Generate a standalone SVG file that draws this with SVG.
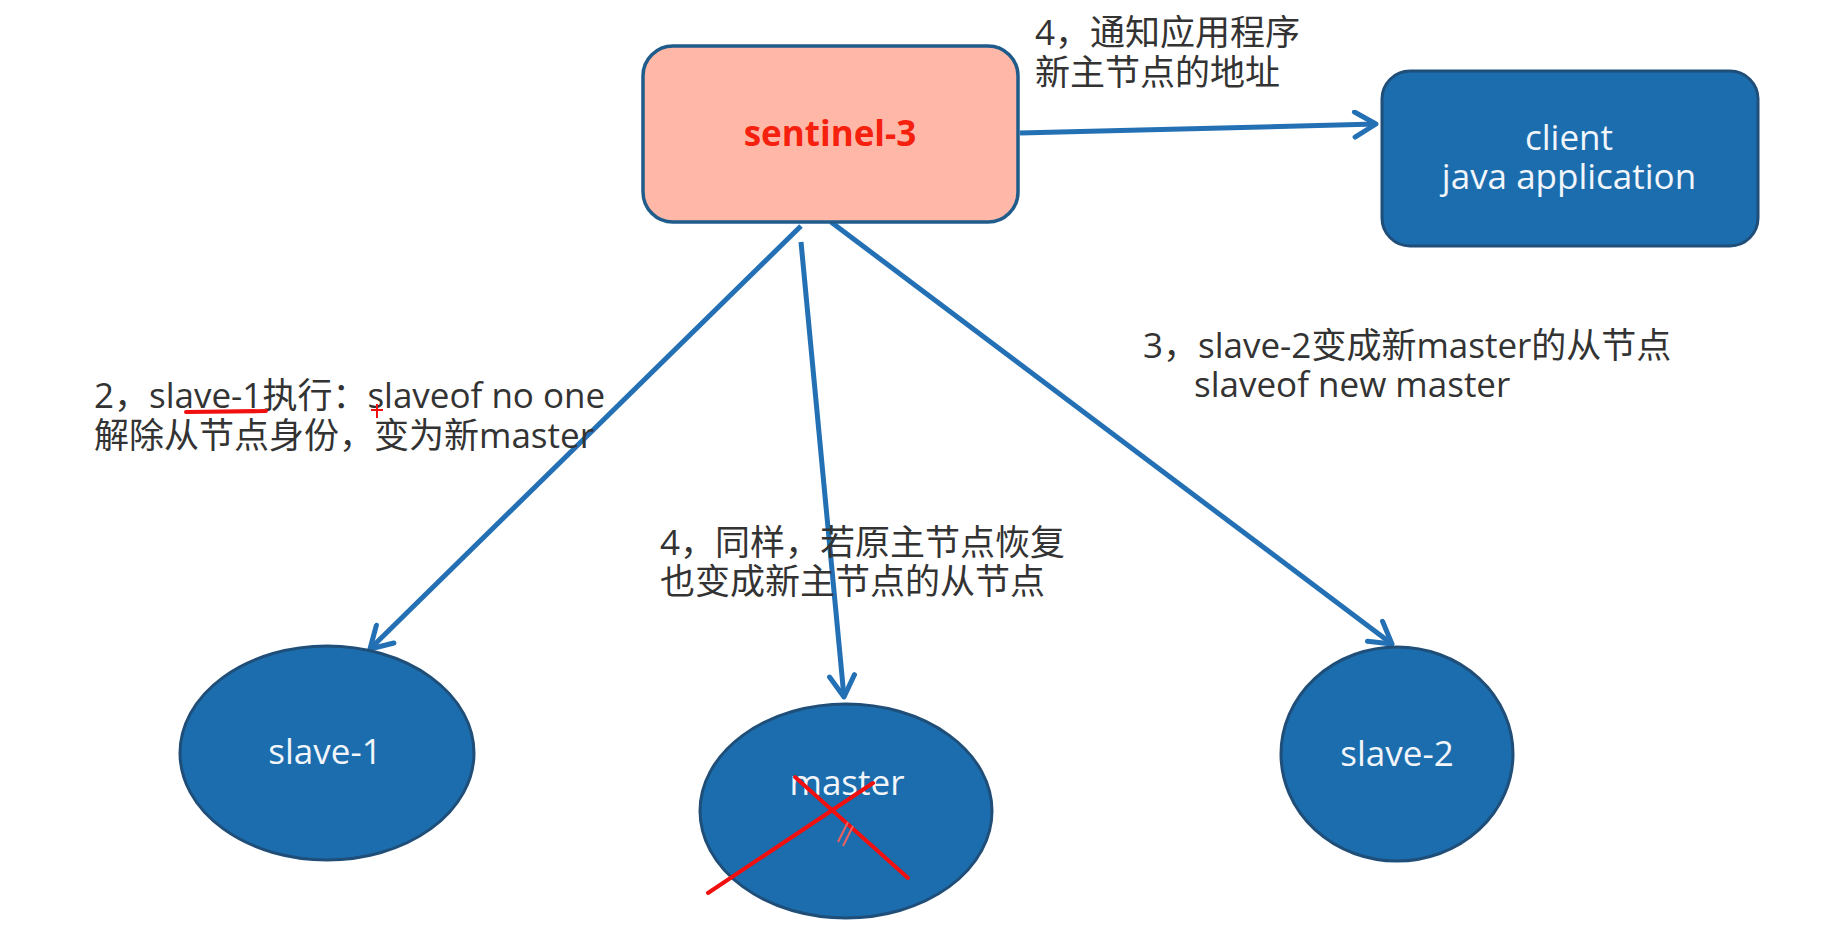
<svg xmlns="http://www.w3.org/2000/svg" width="1848" height="932" viewBox="0 0 1848 932">
<defs>
<style>
.note{font-family:"Open Sans","Noto Sans CJK SC",sans-serif;font-size:35px;fill:#333333;}
.nodeText{font-family:"Open Sans","Noto Sans CJK SC",sans-serif;font-size:35px;fill:#F2F6FA;text-anchor:middle;}
.blue{fill:#1B6DAE;stroke:#1F4E79;stroke-width:3;}
.conn{stroke:#2470B4;stroke-width:5;fill:none;marker-end:url(#arrow);}
.red{stroke:#F01010;stroke-width:4;fill:none;stroke-linecap:round;}
</style>
<marker id="arrow" viewBox="0 0 12 12" refX="10.5" refY="6" markerWidth="6" markerHeight="6" orient="auto" markerUnits="strokeWidth">
<path d="M2,1 L10.5,6 L2,11" fill="none" stroke="#2470B4" stroke-width="2" stroke-linecap="round" stroke-linejoin="round"/>
</marker>
</defs>
<rect width="1848" height="932" fill="#ffffff"/>

<g id="connectors">
<line class="conn" x1="1020" y1="133" x2="1376" y2="124"/>
<line class="conn" x1="801" y1="226" x2="370" y2="649"/>
<line class="conn" x1="801" y1="242" x2="844" y2="697"/>
<line class="conn" x1="831" y1="222" x2="1392" y2="644"/>
</g>

<g id="sentinel-3">
<rect x="643" y="46" width="375" height="176" rx="30" ry="30" fill="#FFB8A8" stroke="#1F5C8C" stroke-width="3.5"/>
<text x="830" y="146" font-family="'Open Sans','Noto Sans',sans-serif" font-size="35" font-weight="bold" fill="#F5200D" text-anchor="middle">sentinel-3</text>
</g>

<g id="client">
<rect class="blue" x="1382" y="71" width="376" height="175" rx="28" ry="28"/>
<text class="nodeText"><tspan x="1569" y="150">client</tspan><tspan x="1569" y="189">java application</tspan></text>
</g>

<g id="slave-1">
<ellipse class="blue" cx="327" cy="753" rx="147" ry="107"/>
<text class="nodeText" x="325" y="764">slave-1</text>
</g>

<g id="master">
<ellipse class="blue" cx="846" cy="811" rx="146" ry="107"/>
<text class="nodeText" x="847" y="795">master</text>
<path class="red" d="M795,777 L908,878"/>
<path class="red" d="M708,893 L873,783"/>
<path d="M838,842 L848,822 M843,846 L853,826" stroke="#F06060" stroke-width="2" fill="none"/>
</g>

<g id="slave-2">
<ellipse class="blue" cx="1397" cy="754" rx="116" ry="107"/>
<text class="nodeText" x="1397" y="766">slave-2</text>
</g>

<g id="note-4-client">
<text class="note"><tspan x="1035" y="45">4，通知应用程序</tspan><tspan x="1035" y="85">新主节点的地址</tspan></text>
</g>

<g id="note-2">
<text class="note"><tspan x="94" y="408">2，slave-1执行：slaveof no one</tspan><tspan x="94" y="448">解除从节点身份，变为新master</tspan></text>
<path class="red" d="M186,412 L266,411" stroke-width="3.5"/>
<path d="M377,404 L377,418 M371,410 L383,410" stroke="#F01010" stroke-width="2" fill="none"/>
</g>

<g id="note-3">
<text class="note"><tspan x="1143" y="358">3，slave-2变成新master的从节点</tspan><tspan x="1194" y="397">slaveof new master</tspan></text>
</g>

<g id="note-4-master">
<text class="note"><tspan x="660" y="555">4，同样，若原主节点恢复</tspan><tspan x="660" y="594">也变成新主节点的从节点</tspan></text>
</g>
</svg>
